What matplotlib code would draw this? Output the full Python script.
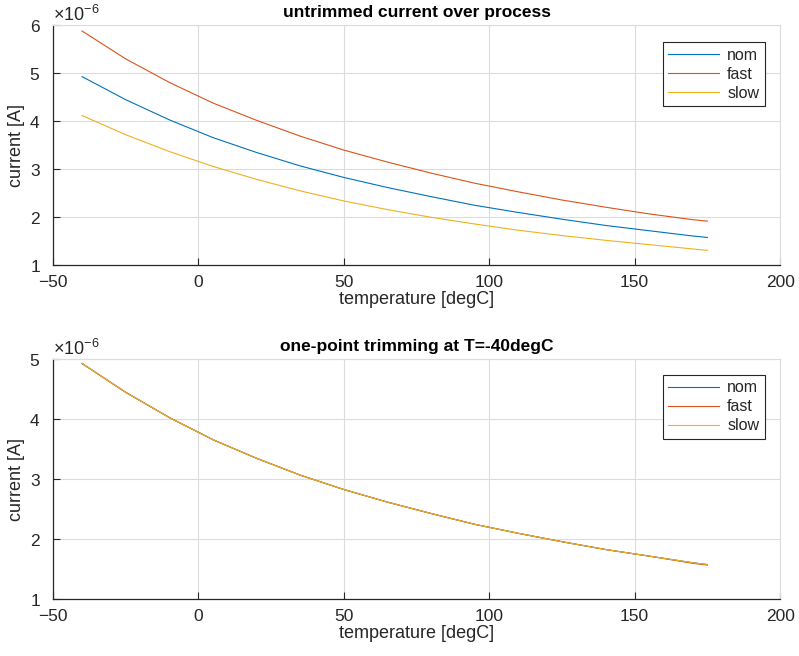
import numpy as np
import matplotlib
matplotlib.use("Agg")
import matplotlib.pyplot as plt
from matplotlib.ticker import ScalarFormatter

# temperatures [degC] and currents [uA]
temperature = [-40, -25, -10, 5, 20, 35, 50, 65, 80, 95, 110, 125, 140, 155, 170, 175]
nom = [4.93, 4.45, 4.03, 3.66, 3.35, 3.07, 2.83, 2.62, 2.43, 2.25, 2.10, 1.96, 1.83, 1.72, 1.61, 1.58]
fast = [5.88, 5.30, 4.81, 4.38, 4.02, 3.69, 3.40, 3.15, 2.92, 2.71, 2.53, 2.36, 2.21, 2.07, 1.95, 1.92]
slow = [4.12, 3.72, 3.37, 3.06, 2.79, 2.55, 2.34, 2.16, 2.00, 1.86, 1.73, 1.62, 1.52, 1.43, 1.34, 1.31]

# after one-point trimming at -40 degC
nom_trim = [4.93, 4.45, 4.03, 3.66, 3.35, 3.07, 2.83, 2.62, 2.43, 2.25, 2.10, 1.96, 1.83, 1.72, 1.61, 1.58]
fast_trim = [4.93, 4.45, 4.03, 3.66, 3.35, 3.07, 2.83, 2.62, 2.43, 2.25, 2.10, 1.96, 1.83, 1.72, 1.60, 1.57]
slow_trim = [4.93, 4.45, 4.03, 3.66, 3.35, 3.07, 2.83, 2.62, 2.43, 2.25, 2.10, 1.96, 1.83, 1.72, 1.61, 1.58]

labels = ["nom", "fast", "slow"]
colors = ["#0072BD", "#D95319", "#EDB120"]

plt.rcParams['font.family'] = ['Liberation Sans', 'DejaVu Sans']
plt.rcParams['mathtext.fontset'] = 'custom'
plt.rcParams['mathtext.rm'] = 'Liberation Sans'
txt = "#262626"

fig = plt.figure(figsize=(7.99, 6.56), dpi=100)
ax1 = fig.add_axes([0.0663, 0.5956, 0.91, 0.3659])
ax2 = fig.add_axes([0.0663, 0.0864, 0.91, 0.3659])


def style(ax, ylim, yticks, title):
    ax.set_xlim(-50, 200)
    ax.set_xticks([-50, 0, 50, 100, 150, 200])
    ax.set_ylim(ylim[0] * 1e-6, ylim[1] * 1e-6)
    ax.set_yticks([v * 1e-6 for v in yticks])
    fmt = ScalarFormatter(useMathText=True)
    fmt.set_powerlimits((0, 0))
    ax.yaxis.set_major_formatter(fmt)
    ax.yaxis.get_offset_text().set_fontsize(13)
    ax.yaxis.get_offset_text().set_color(txt)
    ax.grid(True, color="#dcdcdc", linewidth=0.8)
    ax.set_axisbelow(True)
    for s in ["top", "right"]:
        ax.spines[s].set_color("#dcdcdc")
    for s in ["left", "bottom"]:
        ax.spines[s].set_color(txt)
        ax.spines[s].set_linewidth(0.9)
    ax.tick_params(direction="in", length=5, labelsize=12.5, colors=txt,
                   top=False, right=False)
    ax.tick_params(axis="x", pad=7)
    ax.tick_params(axis="y", pad=9)
    ax.set_xlabel("temperature [degC]", fontsize=13, color=txt, labelpad=1)
    ax.set_ylabel("current [A]", fontsize=13, color=txt, labelpad=3)
    ax.set_title(title, fontsize=12.5, fontweight="bold", color="#000000", pad=6)


t = np.array(temperature)
for vals, lab, c in zip([nom, fast, slow], labels, colors):
    ax1.plot(t, np.array(vals) * 1e-6, color=c, linewidth=0.8, label=lab)
for vals, lab, c in zip([nom_trim, fast_trim, slow_trim], labels, colors):
    ax2.plot(t, np.array(vals) * 1e-6, color=c, linewidth=0.8, label=lab)

style(ax1, (1, 6), [1, 2, 3, 4, 5, 6], "untrimmed current over process")
style(ax2, (1, 5), [1, 2, 3, 4, 5], "one-point trimming at T=-40degC")

for ax, top in [(ax1, 0.93), (ax2, 0.935)]:
    leg = ax.legend(loc="upper right", bbox_to_anchor=(0.979, top), fontsize=11.5,
                    fancybox=False, framealpha=1, edgecolor="#262626",
                    handlelength=3.2, handletextpad=0.5, borderpad=0.35,
                    labelspacing=0.25, borderaxespad=0)
    leg.get_frame().set_linewidth(0.8)
    for tx in leg.get_texts():
        tx.set_color(txt)

fig.savefig("out.png", dpi=100)
